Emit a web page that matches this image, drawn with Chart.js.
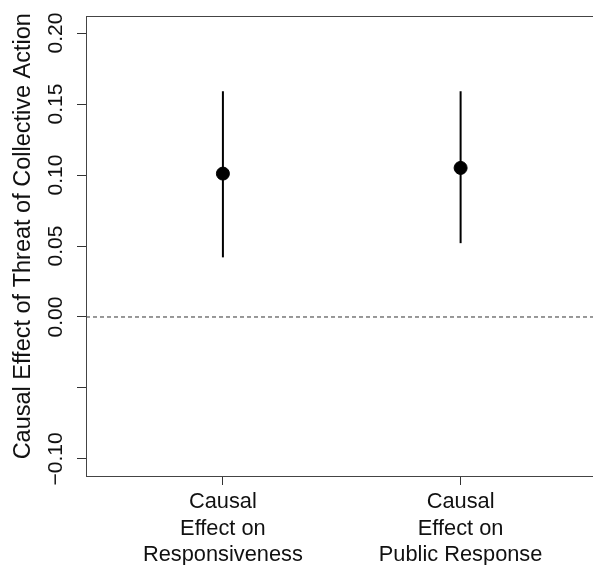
<!DOCTYPE html>
<html lang="en">
<head>
  <meta charset="UTF-8" />
  <title>Causal Effect of Threat of Collective Action</title>
  <script src="https://cdn.jsdelivr.net/npm/chart.js"></script>
  <style>
    html, body {
      margin: 0;
      padding: 0;
      background: #ffffff;
      overflow: hidden;
    }
  </style>
</head>
<body>
  <canvas id="chart" width="593" height="565"></canvas>

  <script>
    // data
    const categories = [
      ['Causal', 'Effect on', 'Responsiveness'],
      ['Causal', 'Effect on', 'Public Response']
    ];
    const catPositions = [1, 2];
    const estimates = [0.101, 0.105];
    const lowerCI = [0.042, 0.052];
    const upperCI = [0.159, 0.159];

    const yTickValues = [-0.10, -0.05, 0.00, 0.05, 0.10, 0.15, 0.20];
    const yTickLabels = ['\u22120.10', '', '0.00', '0.05', '0.10', '0.15', '0.20'];

    // the original plot is cut off on the right, so the visible x range ends early
    const xMin = 0.424, xMax = 2.557;
    const yMin = -0.112, yMax = 0.212;

    const FONT = '"Liberation Sans", Arial, Helvetica, sans-serif';
    const INK = '#111111';

    // one vertical segment per estimate for the intervals
    const ciSets = catPositions.map((x, i) => ({
      type: 'line',
      data: [{ x: x, y: lowerCI[i] }, { x: x, y: upperCI[i] }],
      borderColor: '#000000',
      borderWidth: 2,
      pointRadius: 0,
      order: 2
    }));

    // plot box (R style frame), its right side falls just outside the picture
    const framePlugin = {
      id: 'frame',
      afterDraw(chart) {
        const { ctx, chartArea: a } = chart;
        ctx.save();
        ctx.strokeStyle = '#444444';
        ctx.lineWidth = 1;
        ctx.strokeRect(a.left + 0.5, a.top + 0.5, a.right - a.left, a.bottom - a.top);
        ctx.restore();
      }
    };

    // keep the plot region fixed, labels may overhang
    function noPadding(axis) {
      axis.paddingLeft = 0;
      axis.paddingRight = 0;
      axis.paddingTop = 0;
      axis.paddingBottom = 0;
    }

    new Chart(document.getElementById('chart').getContext('2d'), {
      type: 'scatter',
      data: {
        datasets: [
          {
            type: 'line',
            data: [{ x: xMin, y: 0 }, { x: xMax, y: 0 }],
            borderColor: '#333333',
            borderWidth: 1,
            borderDash: [4, 3],
            pointRadius: 0,
            order: 3
          },
          ...ciSets,
          {
            data: catPositions.map((x, i) => ({ x: x, y: estimates[i] })),
            backgroundColor: '#000000',
            borderColor: '#000000',
            pointRadius: 6.5,
            order: 1
          }
        ]
      },
      options: {
        responsive: false,
        animation: false,
        layout: { autoPadding: false, padding: { top: 16, right: 0, left: 0, bottom: 0 } },
        plugins: {
          legend: { display: false },
          tooltip: { enabled: false }
        },
        scales: {
          x: {
            type: 'linear',
            min: xMin,
            max: xMax,
            afterBuildTicks: (axis) => {
              axis.ticks = catPositions.map(v => ({ value: v }));
            },
            afterFit: (axis) => { axis.height = 89; noPadding(axis); },
            grid: { display: true, drawOnChartArea: false, drawTicks: true, tickLength: 9, color: '#333333' },
            border: { display: true, color: '#333333' },
            ticks: {
              autoSkip: false,
              maxRotation: 0,
              padding: 4,
              color: INK,
              font: { family: FONT, size: 21.8, lineHeight: 1.22 },
              callback: (value, index) => categories[index]
            }
          },
          y: {
            min: yMin,
            max: yMax,
            afterBuildTicks: (axis) => {
              axis.ticks = yTickValues.map(v => ({ value: v }));
            },
            afterFit: (axis) => { axis.width = 86; noPadding(axis); },
            grid: { display: true, drawOnChartArea: false, drawTicks: true, tickLength: 9, color: '#333333' },
            border: { display: true, color: '#333333' },
            title: {
              display: true,
              // leading spaces nudge the centred title up a little, as in the original
              text: '   Causal Effect of Threat of Collective Action',
              color: INK,
              font: { family: FONT, size: 23.5 },
              padding: { top: 9, bottom: 0 }
            },
            ticks: {
              autoSkip: false,
              minRotation: 90,
              maxRotation: 90,
              crossAlign: 'center',
              padding: -6,
              color: INK,
              font: { family: FONT, size: 21 },
              callback: (value, index) => yTickLabels[index]
            }
          }
        }
      },
      plugins: [framePlugin]
    });
  </script>
</body>
</html>
